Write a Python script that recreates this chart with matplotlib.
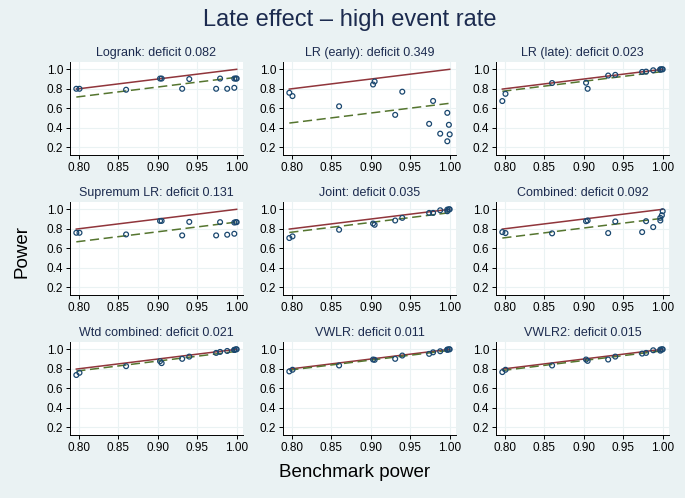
import matplotlib
matplotlib.use("Agg")
import matplotlib.pyplot as plt

# benchmark power (x) shared by all panels
bench = [0.797, 0.801, 0.860, 0.903, 0.905, 0.931, 0.940,
         0.974, 0.979, 0.988, 0.997, 0.997, 0.999, 1.000]

titles = ["Logrank", "LR (early)", "LR (late)",
          "Supremum LR", "Joint", "Combined",
          "Wtd combined", "VWLR", "VWLR2"]
deficits = [0.082, 0.349, 0.023, 0.131, 0.035, 0.092, 0.021, 0.011, 0.015]

logrank = [0.80, 0.80, 0.79, 0.905, 0.905, 0.80, 0.90, 0.80, 0.905, 0.80, 0.81, 0.905, 0.905, 0.905]
lr_early = [0.759, 0.725, 0.62, 0.844, 0.875, 0.532, 0.77, 0.44, 0.675, 0.339, 0.553, 0.261, 0.43, 0.332]
lr_late = [0.674, 0.748, 0.859, 0.862, 0.80, 0.936, 0.943, 0.973, 0.976, 0.99, 0.997, 0.999, 1.0, 1.0]
sup_lr = [0.759, 0.759, 0.742, 0.881, 0.881, 0.732, 0.871, 0.732, 0.868, 0.739, 0.749, 0.864, 0.868, 0.868]
joint = [0.705, 0.722, 0.79, 0.854, 0.841, 0.885, 0.912, 0.963, 0.963, 0.99, 0.98, 0.997, 1.0, 1.0]
combined = [0.766, 0.756, 0.753, 0.878, 0.885, 0.756, 0.875, 0.766, 0.878, 0.817, 0.885, 0.912, 0.939, 0.98]
wtd_comb = [0.736, 0.759, 0.827, 0.878, 0.858, 0.902, 0.925, 0.963, 0.973, 0.983, 0.993, 0.995, 1.0, 1.0]
vwlr = [0.773, 0.79, 0.834, 0.895, 0.892, 0.902, 0.936, 0.953, 0.969, 0.98, 0.995, 0.997, 1.0, 1.0]
vwlr2 = [0.766, 0.79, 0.834, 0.895, 0.881, 0.895, 0.925, 0.956, 0.963, 0.99, 0.986, 0.997, 1.0, 1.0]

powers = [logrank, lr_early, lr_late, sup_lr, joint, combined, wtd_comb, vwlr, vwlr2]

xticks = [0.80, 0.85, 0.90, 0.95, 1.00]
yticks = [0.2, 0.4, 0.6, 0.8, 1.0]

BG = '#eaf2f3'
NAVY = '#1c2b4f'
MARK = '#1a476f'
RED = '#90353b'
GREEN = '#55752f'

plt.rcParams['font.family'] = ['Liberation Sans', 'DejaVu Sans']

W, H = 685, 498
fig = plt.figure(figsize=(W / 100, H / 100), dpi=100, facecolor=BG)

lefts = [70, 283, 496]
tops = [62, 202, 342]
aw, ah = 173, 93

for i, (name, d, p) in enumerate(zip(titles, deficits, powers)):
    r, c = divmod(i, 3)
    ax = fig.add_axes([lefts[c] / W, 1 - (tops[r] + ah) / H, aw / W, ah / H])
    ax.set_facecolor('white')
    ax.grid(True, color=BG, linewidth=0.8)
    ax.set_axisbelow(True)

    lo, hi = min(bench), max(bench)
    ax.plot([lo, hi], [lo, hi], color=RED, linewidth=1.1, zorder=2)
    ax.plot([lo, hi], [lo - d, hi - d], color=GREEN, linewidth=1.1,
            dashes=(6, 3), zorder=2)
    ax.scatter(bench, p, s=12, facecolors='none', edgecolors=MARK,
               linewidths=0.9, zorder=3)

    ax.set_xlim(0.789, 1.008)
    ax.set_ylim(0.12, 1.075)
    ax.set_xticks(xticks)
    ax.set_xticklabels(['%.2f' % v for v in xticks])
    ax.set_yticks(yticks)
    ax.set_yticklabels(['%.1f' % v for v in yticks])
    ax.tick_params(labelsize=8.5, length=3, width=0.7, colors='black', pad=2)
    for s in ['top', 'right']:
        ax.spines[s].set_visible(False)
    for s in ['left', 'bottom']:
        ax.spines[s].set_linewidth(0.7)
    ax.set_title('%s: deficit %.3f' % (name, d), fontsize=9, color=NAVY, pad=4)

fig.text(0.51, 1 - 20 / H, 'Late effect \u2013 high event rate', ha='center',
         va='center', fontsize=17, color=NAVY)
fig.text(22 / W, 1 - 252 / H, 'Power', rotation=90, ha='center', va='center', fontsize=13.5)
fig.text(355 / W, 1 - 472 / H, 'Benchmark power', ha='center', va='center', fontsize=13.5)

fig.savefig('out.png', dpi=100, facecolor=BG)
